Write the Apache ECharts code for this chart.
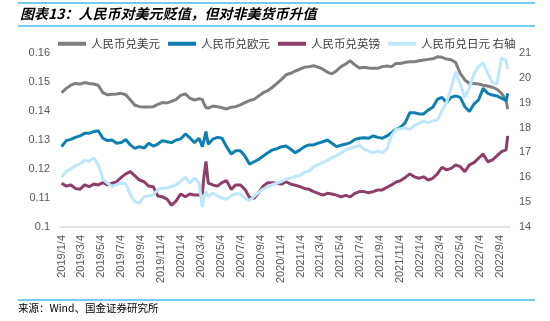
<!DOCTYPE html>
<html>
<head>
<meta charset="utf-8">
<script src="https://cdn.jsdelivr.net/npm/echarts@6/dist/echarts.min.js"></script>
<style>
  html, body { margin: 0; padding: 0; background: #fff; }
  #chart { width: 550px; height: 321px; }
</style>
</head>
<body>
<div id="chart"></div>
<script>
// Sample dates (roughly every two weeks, plus a few extra days around sharp moves)
const dates = [
  '2019-01-04','2019-01-18','2019-02-01','2019-02-15','2019-03-01','2019-03-15','2019-03-29','2019-04-12','2019-04-26','2019-05-10',
  '2019-05-24','2019-06-07','2019-06-21','2019-07-05','2019-07-19','2019-08-02','2019-08-16','2019-08-30','2019-09-13','2019-09-27',
  '2019-10-11','2019-10-25','2019-11-08','2019-11-22','2019-12-06','2019-12-20',
  '2020-01-03','2020-01-17','2020-01-31','2020-02-14','2020-02-28','2020-03-09','2020-03-13','2020-03-20','2020-03-27','2020-04-10',
  '2020-04-24','2020-05-08','2020-05-22','2020-06-05','2020-06-19','2020-07-03','2020-07-17','2020-07-31','2020-08-14','2020-08-28',
  '2020-09-11','2020-09-25','2020-10-09','2020-10-23','2020-11-06','2020-11-20','2020-12-04','2020-12-18',
  '2021-01-01','2021-01-15','2021-01-29','2021-02-12','2021-02-26','2021-03-12','2021-03-26','2021-04-09','2021-04-23','2021-05-07',
  '2021-05-21','2021-06-04','2021-06-18','2021-07-02','2021-07-16','2021-07-30','2021-08-13','2021-08-27','2021-09-10','2021-09-24',
  '2021-10-08','2021-10-22','2021-11-05','2021-11-19','2021-12-03','2021-12-17','2021-12-31',
  '2022-01-14','2022-01-28','2022-02-11','2022-02-25','2022-03-11','2022-03-25','2022-04-08','2022-04-22','2022-05-06','2022-05-20',
  '2022-06-03','2022-06-17','2022-07-01','2022-07-15','2022-07-29','2022-08-12','2022-08-26','2022-09-09','2022-09-23','2022-09-28'
];

// 人民币兑美元 (left axis)
const cnyUsd = [
  0.1463,0.1478,0.1489,0.1495,0.1493,0.1498,0.1495,0.1493,0.1489,0.1463,
  0.1456,0.1458,0.1459,0.1461,0.1456,0.1438,0.1420,0.1415,0.1414,0.1414,
  0.1415,0.1423,0.1429,0.1428,0.1433,0.1440,
  0.1454,0.1459,0.1444,0.1438,0.1442,0.1440,0.1427,0.1412,0.1410,0.1417,
  0.1415,0.1411,0.1407,0.1413,0.1415,0.1421,0.1429,0.1436,0.1440,0.1452,
  0.1463,0.1470,0.1482,0.1495,0.1509,0.1525,0.1530,0.1538,
  0.1544,0.1551,0.1553,0.1556,0.1551,0.1544,0.1534,0.1528,0.1539,0.1553,
  0.1562,0.1573,0.1559,0.1548,0.1551,0.1548,0.1547,0.1547,0.1553,0.1555,
  0.1553,0.1564,0.1564,0.1568,0.1570,0.1570,0.1573,
  0.1576,0.1578,0.1580,0.1587,0.1585,0.1579,0.1577,0.1567,0.1530,0.1507,
  0.1495,0.1495,0.1493,0.1489,0.1486,0.1482,0.1475,0.1461,0.1438,0.1406
];

// 人民币兑欧元 (left axis)
const cnyEur = [
  0.1277,0.1298,0.1302,0.1309,0.1314,0.1323,0.1323,0.1329,0.1332,0.1306,
  0.1298,0.1300,0.1289,0.1291,0.1302,0.1283,0.1271,0.1277,0.1272,0.1289,
  0.1279,0.1286,0.1298,0.1294,0.1291,0.1300,
  0.1304,0.1321,0.1307,0.1291,0.1306,0.1277,0.1294,0.1329,0.1285,0.1303,
  0.1309,0.1306,0.1277,0.1252,0.1263,0.1263,0.1245,0.1217,0.1225,0.1233,
  0.1245,0.1256,0.1266,0.1270,0.1277,0.1279,0.1268,0.1256,
  0.1266,0.1277,0.1283,0.1283,0.1289,0.1294,0.1300,0.1289,0.1277,0.1282,
  0.1286,0.1291,0.1302,0.1306,0.1308,0.1306,0.1314,0.1309,0.1306,0.1314,
  0.1325,0.1337,0.1344,0.1360,0.1394,0.1394,0.1390,
  0.1390,0.1403,0.1413,0.1440,0.1447,0.1429,0.1447,0.1452,0.1447,0.1415,
  0.1398,0.1424,0.1438,0.1478,0.1461,0.1455,0.1452,0.1444,0.1436,0.1461
];

// 人民币兑英镑 (left axis)
const cnyGbp = [
  0.1151,0.1141,0.1145,0.1133,0.1130,0.1145,0.1139,0.1148,0.1145,0.1153,
  0.1145,0.1151,0.1156,0.1171,0.1183,0.1191,0.1176,0.1162,0.1156,0.1141,
  0.1139,0.1107,0.1104,0.1096,0.1075,0.1090,
  0.1114,0.1104,0.1114,0.1110,0.1110,0.1116,0.1165,0.1226,0.1151,0.1145,
  0.1141,0.1153,0.1160,0.1130,0.1145,0.1145,0.1130,0.1102,0.1099,0.1118,
  0.1141,0.1153,0.1153,0.1151,0.1148,0.1156,0.1148,0.1144,
  0.1139,0.1133,0.1130,0.1122,0.1116,0.1110,0.1116,0.1114,0.1110,0.1104,
  0.1109,0.1104,0.1116,0.1122,0.1122,0.1118,0.1122,0.1128,0.1128,0.1137,
  0.1145,0.1155,0.1160,0.1171,0.1183,0.1173,0.1168,
  0.1173,0.1162,0.1168,0.1183,0.1206,0.1197,0.1202,0.1214,0.1208,0.1191,
  0.1214,0.1222,0.1237,0.1252,0.1225,0.1231,0.1245,0.1260,0.1266,0.1314
];

// 人民币兑日元 (right axis)
const cnyJpy = [
  16.00,16.24,16.33,16.47,16.54,16.68,16.64,16.78,16.51,15.93,
  15.77,15.63,15.70,15.77,15.74,15.30,15.02,14.96,15.23,15.25,
  15.30,15.50,15.57,15.57,15.63,15.70,
  15.83,16.01,15.77,15.97,15.77,14.80,15.16,15.43,15.23,15.36,
  15.25,15.16,15.12,15.25,15.34,15.34,15.16,15.06,15.23,15.39,
  15.53,15.63,15.70,15.77,15.83,15.93,15.97,16.04,
  16.06,16.20,16.24,16.42,16.51,16.60,16.68,16.78,16.87,16.98,
  17.09,17.17,17.23,17.28,17.12,17.05,16.98,17.05,16.98,17.14,
  17.68,17.93,17.95,17.99,17.93,18.09,18.17,
  18.26,18.20,18.26,18.30,18.67,19.00,19.57,20.25,19.75,19.21,
  19.61,20.15,20.46,20.60,20.19,19.82,19.75,20.80,20.70,20.35
];

// Date labels along the bottom axis
const tickLabels = [
  '2019/1/4','2019/3/4','2019/5/4','2019/7/4','2019/9/4','2019/11/4',
  '2020/1/4','2020/3/4','2020/5/4','2020/7/4','2020/9/4','2020/11/4',
  '2021/1/4','2021/3/4','2021/5/4','2021/7/4','2021/9/4','2021/11/4',
  '2022/1/4','2022/3/4','2022/5/4','2022/7/4','2022/9/4'
];

const seriesNames = ['人民币兑美元', '人民币兑欧元', '人民币兑英镑', '人民币兑日元 右轴'];
const seriesColors = ['#7f7f7f', '#0f7fb0', '#8c3f68', '#bfe7fa'];

// Calendar day -> timestamp (local midnight)
function dayStamp(y, m, d) {
  return new Date(y, m - 1, d).getTime();
}
function fromLabel(label) {
  const p = label.split('/').map(Number);
  return dayStamp(p[0], p[1], p[2]);
}
function fromIso(s) {
  const p = s.split('-').map(Number);
  return dayStamp(p[0], p[1], p[2]);
}
function pairs(vals) {
  return dates.map((d, i) => [fromIso(d), vals[i]]);
}

const LABEL_FONT = '"Liberation Sans", Arial, sans-serif';
const CJK_FONT = '"Noto Sans CJK SC", "Noto Sans", sans-serif';

const chart = echarts.init(document.getElementById('chart'), null, { renderer: 'canvas' });

const lineSeries = [cnyUsd, cnyEur, cnyGbp, cnyJpy].map((vals, i) => ({
  name: seriesNames[i],
  type: 'line',
  yAxisIndex: i === 3 ? 1 : 0,
  data: pairs(vals),
  showSymbol: false,
  symbol: 'none',
  smooth: false,
  lineStyle: { color: seriesColors[i], width: 3 },
  itemStyle: { color: seriesColors[i] },
  emphasis: { disabled: true },
  z: 2 + i
}));

chart.setOption({
  animation: false,
  backgroundColor: '#ffffff',
  title: {
    text: '图表13：人民币对美元贬值，但对非美货币升值',
    left: 20,
    top: 7,
    padding: 0,
    textStyle: {
      fontFamily: CJK_FONT,
      fontSize: 14,
      fontWeight: 'bold',
      fontStyle: 'italic',
      color: '#000000'
    }
  },
  legend: {
    top: 38,
    left: 58,
    icon: 'rect',
    itemWidth: 28,
    itemHeight: 4,
    itemGap: 8,
    padding: 0,
    textStyle: { fontFamily: CJK_FONT, fontSize: 11.5, color: '#404040' },
    data: seriesNames
  },
  grid: { left: 60, right: 40, top: 53, bottom: 94, containLabel: false },
  xAxis: {
    type: 'value',
    min: dayStamp(2018, 12, 30),
    max: dayStamp(2022, 10, 5),
    axisLine: { show: true, lineStyle: { color: '#d9d9d9', width: 1.5 } },
    axisTick: { show: false },
    splitLine: { show: false },
    axisLabel: {
      customValues: tickLabels.map(fromLabel),
      rotate: 90,
      margin: 8,
      fontFamily: LABEL_FONT,
      fontSize: 11,
      color: '#595959',
      formatter: function (v) {
        const d = new Date(v);
        return d.getFullYear() + '/' + (d.getMonth() + 1) + '/' + d.getDate();
      }
    }
  },
  yAxis: [
    {
      type: 'value',
      min: 0.1,
      max: 0.16,
      interval: 0.01,
      axisLine: { show: false },
      axisTick: { show: false },
      splitLine: { show: false },
      axisLabel: { margin: 10, fontFamily: LABEL_FONT, fontSize: 11, color: '#595959' }
    },
    {
      type: 'value',
      min: 14,
      max: 21,
      interval: 1,
      position: 'right',
      axisLine: { show: false },
      axisTick: { show: false },
      splitLine: { show: false },
      axisLabel: { margin: 9, fontFamily: LABEL_FONT, fontSize: 11, color: '#595959' }
    }
  ],
  graphic: [
    { type: 'line', shape: { x1: 18, y1: 3, x2: 535, y2: 3 }, style: { stroke: '#4db8ea', lineWidth: 1.5 }, silent: true },
    { type: 'line', shape: { x1: 18, y1: 26, x2: 535, y2: 26 }, style: { stroke: '#4db8ea', lineWidth: 1.5 }, silent: true },
    { type: 'line', shape: { x1: 18, y1: 300, x2: 535, y2: 300 }, style: { stroke: '#4db8ea', lineWidth: 1.5 }, silent: true },
    {
      type: 'text', left: 18, top: 303, silent: true,
      style: { text: '来源：Wind、国金证券研究所', font: '10.5px "Noto Sans CJK SC", sans-serif', fill: '#000000' }
    }
  ],
  series: lineSeries
});
</script>
</body>
</html>
